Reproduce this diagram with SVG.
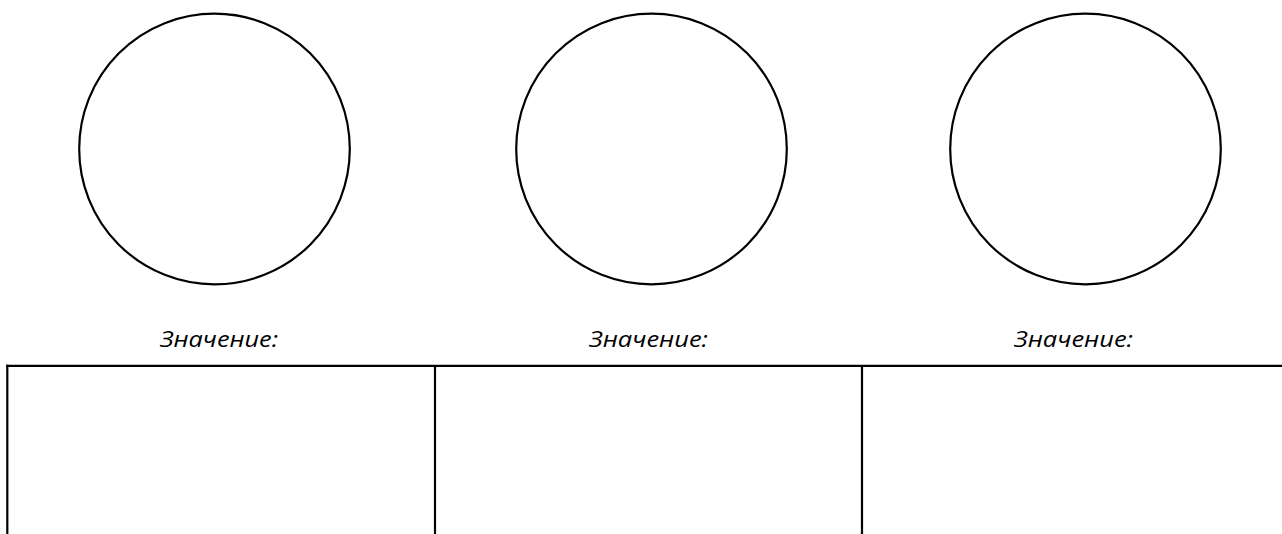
<svg xmlns="http://www.w3.org/2000/svg" width="1282" height="534" viewBox="0 0 1282 534">
<style>
.c{fill:none;stroke:#000;stroke-width:2.2}
.l{stroke:#000;stroke-width:2.2;fill:none}
.t{font-family:"Open Sans","Noto Sans","DejaVu Sans",sans-serif;font-style:italic;font-size:21px;fill:#000}
</style>
<rect width="1282" height="534" fill="#fff"/>
<g id="circle1"><circle class="c" cx="214.5" cy="149" r="135.3"/></g>
<g id="circle2"><circle class="c" cx="651.5" cy="149" r="135.3"/></g>
<g id="circle3"><circle class="c" cx="1085.5" cy="149" r="135.3"/></g>
<g id="label1"><text class="t" x="160" y="346.7" textLength="118" lengthAdjust="spacingAndGlyphs">Значение:</text></g>
<g id="label2"><text class="t" x="589" y="346.7" textLength="119" lengthAdjust="spacingAndGlyphs">Значение:</text></g>
<g id="label3"><text class="t" x="1014" y="346.7" textLength="119" lengthAdjust="spacingAndGlyphs">Значение:</text></g>
<g id="table">
<line class="l" x1="6.2" y1="365.8" x2="1282" y2="365.8"/>
<line class="l" x1="7.3" y1="364.7" x2="7.3" y2="534"/>
<line class="l" x1="435" y1="365.8" x2="435" y2="534"/>
<line class="l" x1="862" y1="365.8" x2="862" y2="534"/>
</g>
</svg>
